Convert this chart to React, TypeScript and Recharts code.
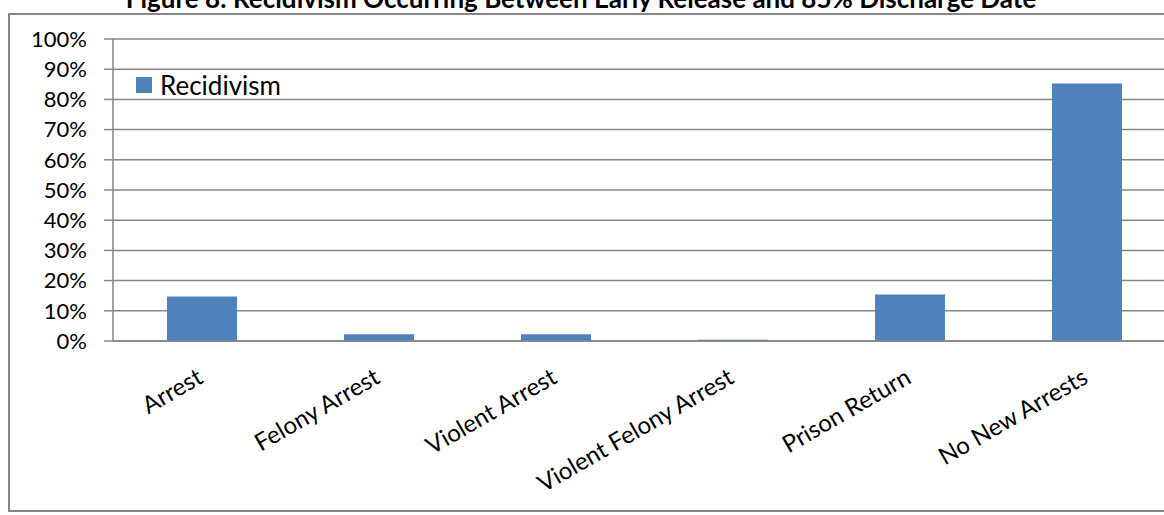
import React from 'react';
import { BarChart, Bar, XAxis, YAxis, CartesianGrid, Legend } from 'recharts';

// Outcome categories along the x axis
const categories: string[] = [
  'Arrest',
  'Felony Arrest',
  'Violent Arrest',
  'Violent Felony Arrest',
  'Prison Return',
  'No New Arrests',
];

// Share of the released group in each outcome (fraction of 1)
const recidivism: number[] = [0.147, 0.022, 0.022, 0.004, 0.154, 0.853];

// Percentage gridlines on the value axis
const yTicks: number[] = [0, 0.1, 0.2, 0.3, 0.4, 0.5, 0.6, 0.7, 0.8, 0.9, 1];

// Category boundaries where the small x-axis tick marks sit
const edgeTicks: number[] = [0, 1, 2, 3, 4, 5, 6];

const seriesName = 'Recidivism';
const title = 'Figure 8: Recidivism Occurring Between Early Release and 85% Discharge Date';

const data = categories.map((name, i) => ({ name, value: recidivism[i] }));

const FONT = 'Lato, "Open Sans", sans-serif';
const AXIS_GREY = '#868686';
const BAR_BLUE = '#4F81BD';

const CategoryTick = (props: any) => {
  const { x, y, payload } = props;
  return (
    <g transform={`translate(${x + 3},${y + 40})`}>
      <text
        x={0}
        y={0}
        textAnchor="end"
        transform="rotate(-30)"
        fontSize={24}
        fontFamily={FONT}
        fill="#000"
      >
        {payload.value}
      </text>
    </g>
  );
};

const LegendBox = (props: any) => {
  const item = (props.payload && props.payload[0]) || { value: seriesName, color: BAR_BLUE };
  return (
    <div style={{ display: 'flex', alignItems: 'center', fontFamily: FONT }}>
      <span
        style={{
          display: 'inline-block',
          width: 16,
          height: 16,
          background: item.color || BAR_BLUE,
          marginRight: 8,
        }}
      />
      <span style={{ fontSize: 26, color: '#000', lineHeight: '30px' }}>{item.value}</span>
    </div>
  );
};

export default function App() {
  return (
    <div
      style={{
        position: 'fixed',
        left: 0,
        top: 0,
        width: 1164,
        height: 515,
        overflow: 'hidden',
        background: '#fff',
      }}
    >
      <div
        style={{
          position: 'absolute',
          left: 8,
          top: 13,
          width: 1220,
          height: 499,
          border: `2px solid ${AXIS_GREY}`,
          boxSizing: 'border-box',
        }}
      />
      <svg
        width={1164}
        height={30}
        style={{ position: 'absolute', left: 0, top: 0, overflow: 'visible' }}
      >
        <text
          x={581}
          y={8}
          textAnchor="middle"
          fontSize={26}
          fontWeight="bold"
          fontFamily={FONT}
          fill="#000"
        >
          {title}
        </text>
      </svg>
      <div style={{ position: 'absolute', left: 0, top: 0 }}>
        <BarChart
          width={1200}
          height={515}
          data={data}
          margin={{ top: 39, right: 25, bottom: 0, left: 0 }}
        >
          <CartesianGrid
            vertical={false}
            stroke={AXIS_GREY}
            strokeWidth={1.5}
            yAxisId={0}
            xAxisId={0}
          />
          <XAxis
            xAxisId={0}
            type="number"
            domain={[0, 6]}
            ticks={edgeTicks}
            allowDataOverflow
            tick={false}
            tickSize={8}
            height={1}
            axisLine={{ stroke: AXIS_GREY, strokeWidth: 1.5 }}
            tickLine={{ stroke: AXIS_GREY, strokeWidth: 1.5 }}
          />
          <XAxis
            xAxisId={1}
            dataKey="name"
            type="category"
            height={173}
            interval={0}
            axisLine={false}
            tickLine={false}
            tickSize={0}
            tickMargin={0}
            tick={<CategoryTick />}
          />
          <YAxis
            yAxisId={0}
            domain={[0, 1]}
            ticks={yTicks}
            interval={0}
            width={113}
            tickSize={9}
            tickMargin={17}
            tickFormatter={(v: number) => `${Math.round(v * 100)}%`}
            tick={{ fontSize: 22, fontFamily: FONT, fill: '#000' }}
            axisLine={{ stroke: AXIS_GREY, strokeWidth: 1.5 }}
            tickLine={{ stroke: AXIS_GREY, strokeWidth: 1.5 }}
          />
          <Legend
            layout="horizontal"
            verticalAlign="middle"
            align="center"
            content={<LegendBox />}
            wrapperStyle={{ position: 'absolute', left: 136, top: 70, width: 'auto' }}
          />
          <Bar
            xAxisId={1}
            yAxisId={0}
            dataKey="value"
            name={seriesName}
            fill={BAR_BLUE}
            barSize={70}
            isAnimationActive={false}
          />
        </BarChart>
      </div>
    </div>
  );
}
